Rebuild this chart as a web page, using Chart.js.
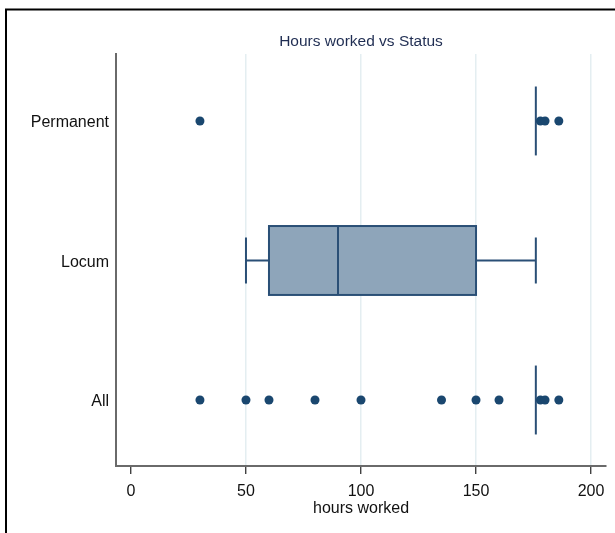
<!DOCTYPE html>
<html>
<head>
<meta charset="utf-8">
<title>Hours worked vs Status</title>
<script src="https://cdn.jsdelivr.net/npm/chart.js@4.4.1/dist/chart.umd.min.js"></script>
<style>
  html, body { margin: 0; padding: 0; background: #fff; }
  #wrap { width: 615px; height: 533px; position: relative; }
</style>
</head>
<body>
<div id="wrap"><canvas id="hoursChart" width="615" height="533"></canvas></div>
<script>
// groups, top to bottom
const statusGroups = ['Permanent', 'Locum', 'All'];

// box plot summary per group (hours)
const whiskerLow = [176, 50, 176];
const quartile1 = [176, 60, 176];
const medians = [176, 90, 176];
const quartile3 = [176, 150, 176];
const whiskerHigh = [176, 176, 176];

// outside values per group
const permanentOutliers = [30, 178, 180, 186];
const locumOutliers = [];
const allOutliers = [30, 50, 60, 80, 100, 135, 150, 160, 178, 180, 186];

const xTicks = [0, 50, 100, 150, 200];

const FONT = "'Liberation Sans', Arial, Helvetica, sans-serif";
const NAVY = '#1a476f';

// groups sit on the y axis at positions 0, 1, 2
const toPoints = (vals, groupIndex) => vals.map(v => ({ x: v, y: groupIndex }));

// draws boxes, medians and whiskers from the summary arrays
const boxPlugin = {
  id: 'boxes',
  beforeDatasetsDraw(chart) {
    const { ctx, scales: { x, y } } = chart;
    ctx.save();
    statusGroups.forEach((g, i) => {
      const top = y.getPixelForValue(i - 0.247);
      const bot = y.getPixelForValue(i + 0.247);
      const capTop = y.getPixelForValue(i - 0.165);
      const capBot = y.getPixelForValue(i + 0.165);
      const mid = y.getPixelForValue(i);
      const lo = x.getPixelForValue(whiskerLow[i]);
      const q1 = x.getPixelForValue(quartile1[i]);
      const md = x.getPixelForValue(medians[i]);
      const q3 = x.getPixelForValue(quartile3[i]);
      const hi = x.getPixelForValue(whiskerHigh[i]);

      ctx.strokeStyle = '#2a4f76';
      ctx.lineWidth = 2;

      // whiskers
      ctx.beginPath();
      ctx.moveTo(lo, mid); ctx.lineTo(q1, mid);
      ctx.moveTo(q3, mid); ctx.lineTo(hi, mid);
      if (lo < q1) { ctx.moveTo(lo, capTop); ctx.lineTo(lo, capBot); }
      if (hi > q3) { ctx.moveTo(hi, capTop); ctx.lineTo(hi, capBot); }
      ctx.stroke();

      // box
      if (q3 > q1) {
        ctx.fillStyle = '#8ea5ba';
        ctx.fillRect(q1, top, q3 - q1, bot - top);
        ctx.strokeRect(q1, top, q3 - q1, bot - top);
      }
      ctx.beginPath();
      ctx.moveTo(md, top); ctx.lineTo(md, bot);
      ctx.stroke();
    });
    ctx.restore();
  }
};

// outer frame and chart title
const framePlugin = {
  id: 'frame',
  beforeDraw(chart) {
    const { ctx, width, height } = chart;
    ctx.save();
    ctx.fillStyle = '#fff';
    ctx.fillRect(0, 0, width, height);
    ctx.strokeStyle = '#000';
    ctx.lineWidth = 2;
    ctx.strokeRect(6, 9.5, width + 20, height + 20);
    ctx.restore();
  },
  afterDraw(chart) {
    const { ctx, chartArea } = chart;
    ctx.save();
    ctx.font = '15.5px ' + FONT;
    ctx.fillStyle = '#1f2d52';
    ctx.textAlign = 'center';
    ctx.textBaseline = 'middle';
    ctx.fillText('Hours worked vs Status', (chartArea.left + chartArea.right) / 2, 42);
    ctx.restore();
  }
};

const dotStyle = {
  backgroundColor: NAVY,
  borderColor: NAVY,
  pointRadius: 4.5,
  pointHoverRadius: 4.5,
  borderWidth: 0
};

new Chart(document.getElementById('hoursChart'), {
  type: 'scatter',
  data: {
    datasets: [
      { label: 'Permanent', data: toPoints(permanentOutliers, 0), ...dotStyle },
      { label: 'Locum', data: toPoints(locumOutliers, 1), ...dotStyle },
      { label: 'All', data: toPoints(allOutliers, 2), ...dotStyle }
    ]
  },
  options: {
    responsive: false,
    animation: false,
    layout: { padding: { top: 54, right: 9, bottom: 0, left: 0 } },
    plugins: {
      legend: { display: false },
      tooltip: { enabled: false },
      title: { display: false }
    },
    scales: {
      x: {
        type: 'linear',
        min: -6.5,
        max: 206.5,
        afterBuildTicks: scale => { scale.ticks = xTicks.map(v => ({ value: v })); },
        afterFit: scale => { scale.height = 67; },
        grid: {
          color: c => (c.tick && c.tick.value === 0 ? 'rgba(0,0,0,0)' : '#e4eef1'),
          lineWidth: 1.5,
          tickColor: '#222',
          tickLength: 8,
          tickWidth: 1.2
        },
        border: { color: '#6a6a6a', width: 2 },
        ticks: {
          padding: 8,
          color: '#111',
          font: { family: FONT, size: 16 },
          maxRotation: 0
        },
        title: {
          display: true,
          text: 'hours worked',
          color: '#111',
          font: { family: FONT, size: 16 },
          padding: { top: 0, bottom: 15 }
        }
      },
      y: {
        type: 'linear',
        reverse: true,
        min: -0.48,
        max: 2.473,
        afterBuildTicks: scale => { scale.ticks = statusGroups.map((g, i) => ({ value: i })); },
        afterFit: scale => { scale.width = 116; },
        grid: { drawOnChartArea: false, drawTicks: false },
        border: { color: '#6a6a6a', width: 2 },
        ticks: {
          padding: 7,
          labelOffset: 2,
          color: '#111',
          font: { family: FONT, size: 16 },
          callback: v => statusGroups[v]
        }
      }
    }
  },
  plugins: [boxPlugin, framePlugin]
});
</script>
</body>
</html>
